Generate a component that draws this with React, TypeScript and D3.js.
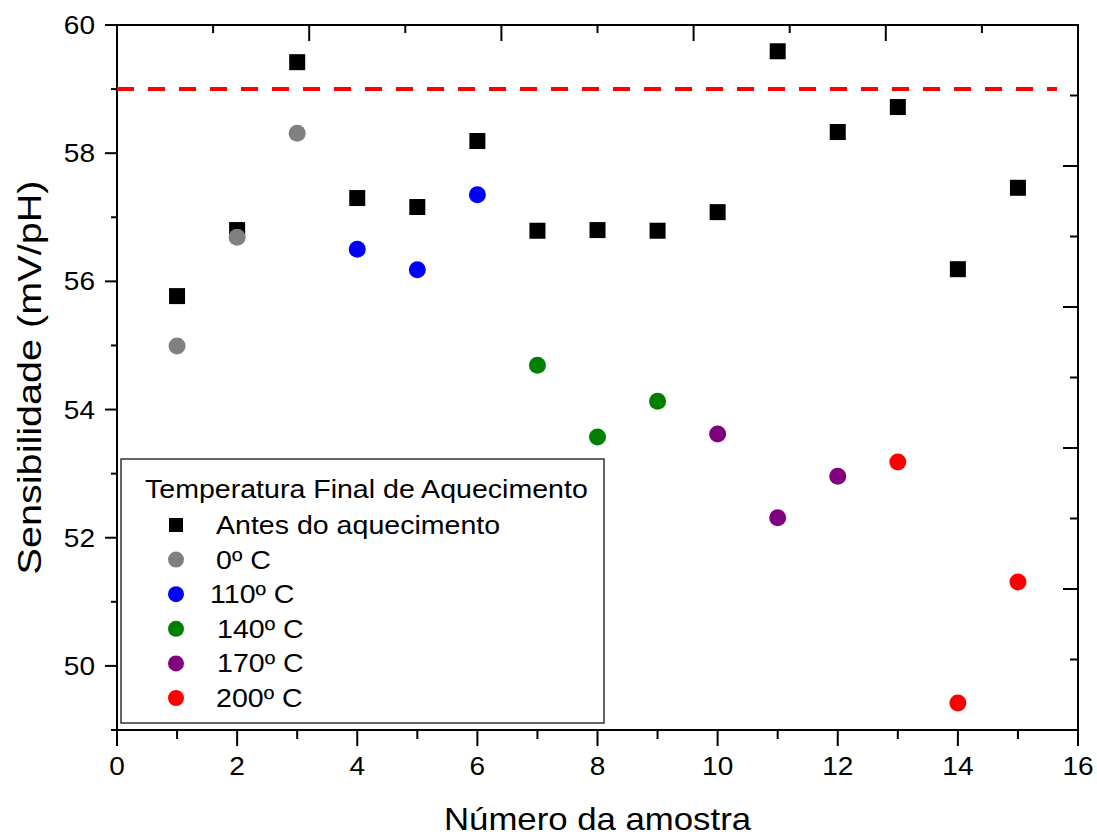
import React, { useRef, useEffect } from 'react';
import * as d3 from 'd3';

// ==================== DATA ====================
const amostras = [1, 2, 3, 4, 5, 6, 7, 8, 9, 10, 11, 12, 13, 14, 15];
const antes = [55.77, 56.8, 59.42, 57.3, 57.16, 58.19, 56.79, 56.8, 56.79, 57.08, 59.59, 58.33, 58.72, 56.19, 57.46];

const grupos = [
  { label: '0º C', color: '#808080', x: [1, 2, 3], y: [54.99, 56.69, 58.31], dx: 0 },
  { label: '110º C', color: '#0000ff', x: [4, 5, 6], y: [56.5, 56.18, 57.35], dx: -6 },
  { label: '140º C', color: '#008000', x: [7, 8, 9], y: [54.69, 53.57, 54.13], dx: 1 },
  { label: '170º C', color: '#800080', x: [10, 11, 12], y: [53.62, 52.31, 52.96], dx: 1 },
  { label: '200º C', color: '#ff0000', x: [13, 14, 15], y: [53.18, 49.42, 51.31], dx: 0 },
];

const xTicks = [0, 2, 4, 6, 8, 10, 12, 14, 16];
const yTicks = [50, 52, 54, 56, 58, 60];
const nernst = 59; // linha de referência
const nernstSpan = [0, 15.65];

const FONT = "'Liberation Sans', Arial, sans-serif";
const SX = 1.12; // horizontal stretch of the original text

// ==================== LAYOUT ====================
const W = 1097;
const H = 836;
const L = 117, R = 1078, T = 25, B = 730;

const App = () => {
  const svgRef = useRef<SVGSVGElement | null>(null);

  useEffect(() => {
    const svg = d3.select(svgRef.current);
    svg.selectAll('*').remove();

    const x = d3.scaleLinear().domain([0, 16]).range([L, R]);
    const y = d3.scaleLinear().domain([49, 60]).range([B, T]);
    // mirror axes (Origin layer, different scale)
    const xTop = d3.scaleLinear().domain([0, 10]).range([L, R]);
    const yRight = d3.scaleLinear().domain([0, 10]).range([B, T]);

    const g = svg.append('g');

    const stretchText = (sel, tx, ty, rot = 0, sx = SX) =>
      sel.attr('transform', `translate(${tx},${ty}) rotate(${rot}) scale(${sx},1)`);

    // ---------- ticks ----------
    const tick = (x1, y1, x2, y2) =>
      g.append('line').attr('x1', x1).attr('y1', y1).attr('x2', x2).attr('y2', y2)
        .attr('stroke', '#000').attr('stroke-width', 2);

    d3.range(0, 17).forEach(v => {
      const major = v % 2 === 0;
      tick(x(v), B, x(v), B + (major ? 16 : 9));
    });
    d3.range(49, 61).forEach(v => {
      const major = v % 2 === 0;
      tick(L, y(v), L - (major ? 12 : 6), y(v));
    });
    d3.range(0, 11).forEach(v => {
      const major = v % 2 === 0;
      tick(xTop(v), T, xTop(v), T + (major ? 16 : 8));
      tick(R, yRight(v), R - (major ? 15 : 8), yRight(v));
    });

    // ---------- frame ----------
    g.append('rect')
      .attr('x', L).attr('y', T).attr('width', R - L).attr('height', B - T)
      .attr('fill', 'none').attr('stroke', '#000').attr('stroke-width', 2);

    // ---------- tick labels ----------
    xTicks.forEach(v => {
      g.append('text').call(stretchText, x(v), 775)
        .attr('text-anchor', 'middle').attr('font-family', FONT).attr('font-size', 25)
        .attr('fill', '#000').text(v);
    });
    yTicks.forEach(v => {
      g.append('text').call(stretchText, 95, y(v) + 9)
        .attr('text-anchor', 'end').attr('font-family', FONT).attr('font-size', 25)
        .attr('fill', '#000').text(v);
    });

    // ---------- axis titles ----------
    g.append('text').call(stretchText, (L + R) / 2, 830, 0, 1.14)
      .attr('text-anchor', 'middle').attr('font-family', FONT).attr('font-size', 30.5)
      .attr('fill', '#000').text('Número da amostra');
    g.append('text').call(stretchText, 41, (T + B) / 2, -90, 1.2)
      .attr('text-anchor', 'middle').attr('font-family', FONT).attr('font-size', 33)
      .attr('fill', '#000').text('Sensibilidade (mV/pH)');

    // ---------- reference line ----------
    g.append('line')
      .attr('x1', x(nernstSpan[0])).attr('x2', x(nernstSpan[1]))
      .attr('y1', y(nernst)).attr('y2', y(nernst))
      .attr('stroke', '#ff0000').attr('stroke-width', 4)
      .attr('stroke-dasharray', '17 14');

    // ---------- points ----------
    g.selectAll('.sq')
      .data(amostras.map((a, i) => [a, antes[i]]))
      .enter().append('rect')
      .attr('x', d => x(d[0]) - 8).attr('y', d => y(d[1]) - 8)
      .attr('width', 16).attr('height', 16).attr('fill', '#000');

    grupos.forEach(gr => {
      g.selectAll(null)
        .data(gr.x.map((a, i) => [a, gr.y[i]]))
        .enter().append('circle')
        .attr('cx', d => x(d[0])).attr('cy', d => y(d[1]))
        .attr('r', 8.5).attr('fill', gr.color);
    });

    // ---------- legend ----------
    const lg = g.append('g');
    lg.append('rect')
      .attr('x', 121).attr('y', 459).attr('width', 483).attr('height', 264)
      .attr('fill', '#fff').attr('stroke', '#333').attr('stroke-width', 1.5);
    lg.append('text').call(stretchText, 145, 498)
      .attr('font-family', FONT).attr('font-size', 25.5).attr('fill', '#000')
      .text('Temperatura Final de Aquecimento');

    const rowY = i => 525 + i * 34.6;
    lg.append('rect').attr('x', 169).attr('y', rowY(0) - 7).attr('width', 14).attr('height', 14).attr('fill', '#000');
    lg.append('text').call(stretchText, 216, rowY(0) + 9)
      .attr('font-family', FONT).attr('font-size', 25.5).attr('fill', '#000')
      .text('Antes do aquecimento');
    grupos.forEach((gr, i) => {
      lg.append('circle').attr('cx', 176).attr('cy', rowY(i + 1)).attr('r', 8).attr('fill', gr.color);
      lg.append('text').call(stretchText, 216 + gr.dx, rowY(i + 1) + 9)
        .attr('font-family', FONT).attr('font-size', 25.5).attr('fill', '#000')
        .text(gr.label);
    });
  }, []);

  return (
    <div style={{ position: 'absolute', left: 0, top: 0, width: W, height: H, background: '#fff' }}>
      <svg ref={svgRef} width={W} height={H} viewBox={`0 0 ${W} ${H}`} style={{ display: 'block' }} />
    </div>
  );
};

export default App;
